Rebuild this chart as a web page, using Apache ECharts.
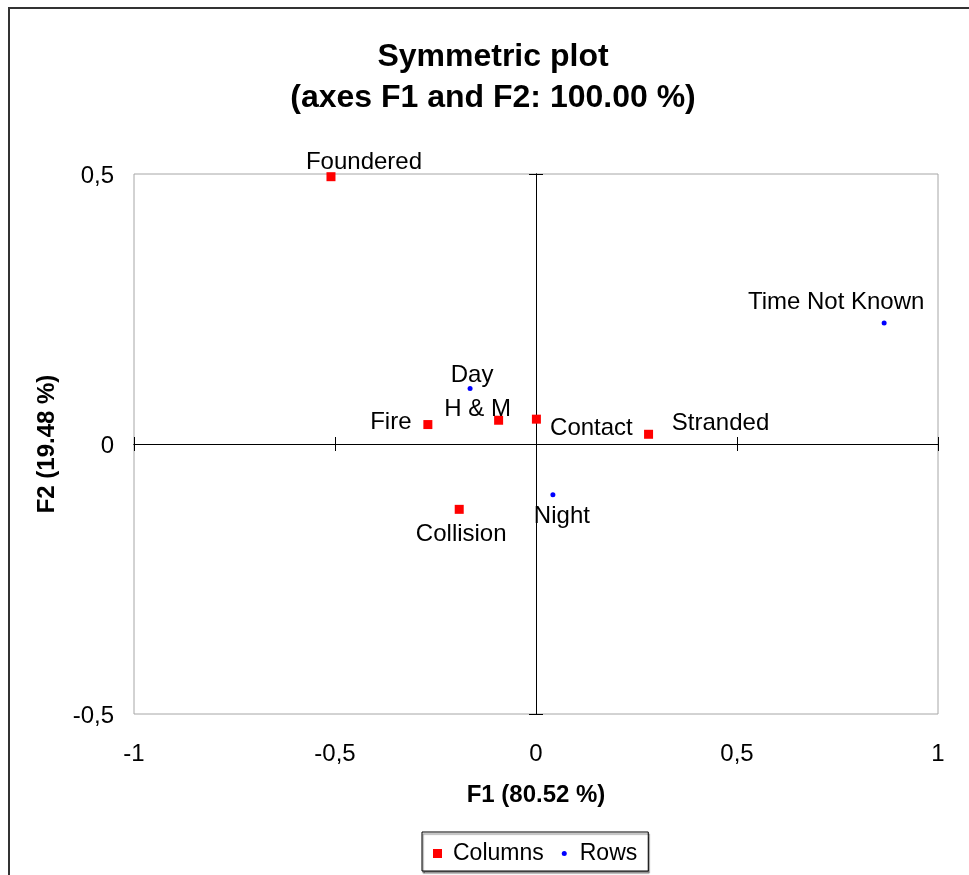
<!DOCTYPE html>
<html>
<head>
<meta charset="utf-8">
<script src="https://cdn.jsdelivr.net/npm/echarts@6/dist/echarts.min.js"></script>
<style>
  html, body { margin: 0; padding: 0; background: #fff; }
  #chart { width: 969px; height: 875px; }
</style>
</head>
<body>
<div id="chart"></div>
<script>
// Columns (accident type)
const colNames = ['Foundered', 'Fire', 'H & M', 'Contact', 'Stranded', 'Collision'];
const colF1 = [-0.510, -0.269, -0.093, 0.001, 0.280, -0.191];
const colF2 = [0.495, 0.036, 0.044, 0.046, 0.018, -0.121];

// Rows (time of day)
const rowNames = ['Day', 'Night', 'Time Not Known'];
const rowF1 = [-0.164, 0.042, 0.866];
const rowF2 = [0.103, -0.094, 0.224];

const xTicks = [-1, -0.5, 0, 0.5, 1];
const yTicks = [-0.5, 0, 0.5];

const FONT = '"Liberation Sans", Arial, sans-serif';

// where each point's label sits, relative to its marker (px)
const labelShift = {
  'Foundered': [33, -14],
  'Fire': [-37, -2],
  'H & M': [-21, -11],
  'Contact': [55, 9],
  'Stranded': [72, -11],
  'Collision': [2, 25],
  'Day': [2, -13],
  'Night': [9, 22],
  'Time Not Known': [-48, -21]
};

function points(names, xs, ys) {
  return names.map((n, i) => ({
    name: n,
    value: [xs[i], ys[i]],
    label: { offset: labelShift[n] }
  }));
}

const fmt = v => String(v).replace('.', ',');

const valAxis = (ticks) => ({
  type: 'value',
  min: ticks[0],
  max: ticks[ticks.length - 1],
  interval: 0.5,
  splitLine: { show: false }
});

// line through zero with ticks on one side
const zeroAxis = (ticks, inside) => Object.assign(valAxis(ticks), {
  axisLine: { show: true, onZero: true, onZeroAxisIndex: 0, lineStyle: { color: '#000', width: 1 } },
  axisTick: { show: true, inside: inside, length: 7, lineStyle: { color: '#000' } },
  axisLabel: { show: false }
});

const chart = echarts.init(document.getElementById('chart'));

chart.setOption({
  animation: false,
  backgroundColor: '#fff',
  title: {
    text: 'Symmetric plot\n(axes F1 and F2: 100.00 %)',
    left: 493,
    top: 37,
    padding: 0,
    textAlign: 'center',
    textStyle: { fontFamily: FONT, fontSize: 32, fontWeight: 'bold', lineHeight: 41, color: '#000' }
  },
  graphic: [{
    type: 'rect',
    silent: true,
    z: -1,
    shape: { x: 9, y: 8, width: 990, height: 900 },
    style: { fill: 'none', stroke: '#333', lineWidth: 2 }
  }],
  grid: {
    left: 134, top: 174, right: 31, bottom: 161,
    show: true, borderColor: '#a6a6a6', borderWidth: 1, backgroundColor: 'transparent'
  },
  legend: {
    left: 422, top: 832,
    padding: [10, 11, 6, 11],
    itemGap: 16, itemWidth: 9, itemHeight: 9,
    borderColor: '#000', borderWidth: 1, backgroundColor: '#fff',
    shadowColor: 'rgba(0,0,0,0.5)', shadowOffsetX: 1, shadowOffsetY: 2, shadowBlur: 1,
    textStyle: { fontFamily: FONT, fontSize: 23, color: '#000', padding: [0, 0, 0, 6] },
    data: [
      { name: 'Columns', icon: 'rect' },
      { name: 'Rows', icon: 'path://M0,0M9,9M2,4.5a2.5,2.5 0 1,0 5,0a2.5,2.5 0 1,0 -5,0Z' }
    ]
  },
  xAxis: [
    Object.assign(valAxis(xTicks), {
      position: 'bottom',
      axisLine: { show: false, onZero: false },
      axisTick: { show: false },
      axisLabel: { formatter: fmt, fontFamily: FONT, fontSize: 24, color: '#000', margin: 28 },
      name: 'F1 (80.52 %)',
      nameLocation: 'middle',
      nameGap: 69,
      nameTextStyle: { fontFamily: FONT, fontSize: 24, fontWeight: 'bold', color: '#000' }
    }),
    zeroAxis(xTicks, true),
    zeroAxis(xTicks, false)
  ],
  yAxis: [
    Object.assign(valAxis(yTicks), {
      position: 'left',
      axisLine: { show: false, onZero: false },
      axisTick: { show: false },
      axisLabel: {
        formatter: v => '{v|' + fmt(v) + '}',
        margin: 20,
        rich: { v: { fontFamily: FONT, fontSize: 24, color: '#000', padding: [5, 0, 0, 0] } }
      },
      name: 'F2 (19.48 %)',
      nameLocation: 'middle',
      nameGap: 75,
      nameRotate: 90,
      nameTextStyle: { fontFamily: FONT, fontSize: 24, fontWeight: 'bold', color: '#000' }
    }),
    zeroAxis(yTicks, true),
    zeroAxis(yTicks, false)
  ],
  series: [
    {
      name: 'Columns',
      type: 'scatter',
      symbol: 'rect',
      symbolSize: 9,
      itemStyle: { color: '#ff0000', opacity: 1 },
      label: { show: true, position: 'inside', formatter: '{b}', fontFamily: FONT, fontSize: 24, color: '#000' },
      emphasis: { disabled: true },
      data: points(colNames, colF1, colF2)
    },
    {
      name: 'Rows',
      type: 'scatter',
      symbol: 'circle',
      symbolSize: 5,
      itemStyle: { color: '#0000ff', opacity: 1 },
      label: { show: true, position: 'inside', formatter: '{b}', fontFamily: FONT, fontSize: 24, color: '#000' },
      emphasis: { disabled: true },
      data: points(rowNames, rowF1, rowF2)
    }
  ]
});
</script>
</body>
</html>
